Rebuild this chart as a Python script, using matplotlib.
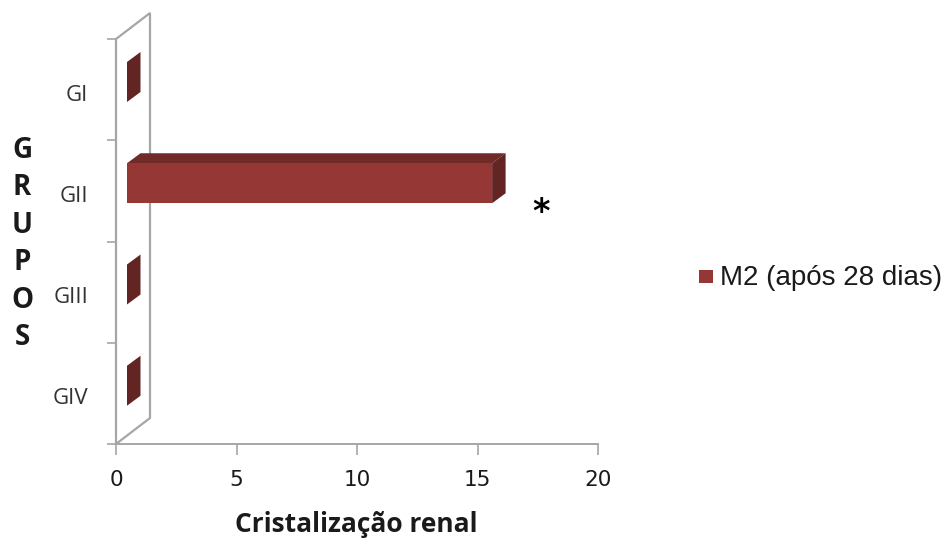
import matplotlib
matplotlib.use('Agg')
import matplotlib.pyplot as plt
from matplotlib.patches import Polygon, Rectangle

groups = ['GI', 'GII', 'GIII', 'GIV']
m2_values = [0, 15.15, 0, 0]
x_ticks = [0, 5, 10, 15, 20]
series_name = 'M2 (após 28 dias)'

FRONT = '#953735'
TOP = '#702B29'
SIDE = '#632523'
AXIS = '#A6A6A6'
TEXT = '#1a1a1a'

# 3D look: depth and inset in data units
DEPTH_X = 13.5 / 24.1
DEPTH_Y = 10 / 101.25
WALL_X = 34 / 24.1
WALL_Y = 26 / 101.25
BAR_START = 11 / 24.1
BAR_TOP = 23 / 101.25
BAR_BOTTOM = 63 / 101.25

W, H = 944, 540
fig = plt.figure(figsize=(W / 100, H / 100), dpi=100)
ax = fig.add_axes([116 / W, 1 - 444 / H, (598 - 116) / W, (444 - 39) / H])
ax.set_xlim(0, 20)
ax.set_ylim(4, 0)

# back wall of the 3D plot
wall = [(0, 4), (WALL_X, 4 - WALL_Y), (WALL_X, -WALL_Y), (0, 0)]
ax.add_patch(Polygon(wall, closed=True, fill=False, edgecolor=AXIS, lw=1.6,
                     clip_on=False, zorder=1))

for i, value in enumerate(m2_values):
    x0 = BAR_START
    x1 = BAR_START + value
    top = i + BAR_TOP
    bottom = i + BAR_BOTTOM
    if value > 0:
        ax.add_patch(Polygon([(x0, top), (x0 + DEPTH_X, top - DEPTH_Y),
                              (x1 + DEPTH_X, top - DEPTH_Y), (x1, top)],
                             closed=True, facecolor=TOP, edgecolor='none', zorder=3))
        ax.add_patch(Rectangle((x0, top), value, bottom - top,
                               facecolor=FRONT, edgecolor='none', zorder=3))
    # end cap, the only visible face when the value is zero
    ax.add_patch(Polygon([(x1, top), (x1 + DEPTH_X, top - DEPTH_Y),
                          (x1 + DEPTH_X, bottom - DEPTH_Y), (x1, bottom)],
                         closed=True, facecolor=SIDE, edgecolor='none', zorder=3))

for side in ['top', 'right']:
    ax.spines[side].set_visible(False)
for side in ['left', 'bottom']:
    ax.spines[side].set_color(AXIS)
    ax.spines[side].set_linewidth(1.4)

ax.set_xticks(x_ticks)
ax.tick_params(axis='x', length=8, width=1.2, color=AXIS, pad=11,
               labelsize=15.5, labelcolor=TEXT)

# band boundaries get the tick marks, group names sit between them
ax.set_yticks([0, 1, 2, 3, 4])
ax.set_yticklabels([])
ax.tick_params(axis='y', which='major', length=6.5, width=1.2, color=AXIS)
ax.set_yticks([i + 0.53 for i in range(len(groups))], minor=True)
ax.set_yticklabels(groups, minor=True, family='Open Sans', fontsize=16, color='#333333')
ax.tick_params(axis='y', which='minor', length=0, pad=20)

fig.text(356 / W, 1 - 524 / H, 'Cristalização renal', family='Open Sans', fontsize=19,
         fontweight='bold', color=TEXT, ha='center', va='center')
fig.text(22 / W, 1 - 244 / H, 'G\nR\nU\nP\nO\nS', family='Open Sans', fontsize=20,
         fontweight='bold', color=TEXT, ha='center', va='center', linespacing=1.38)

fig.text(541 / W, 1 - 213 / H, '*', family='DejaVu Sans', fontsize=24,
         fontweight='bold', color='black', ha='center', va='center')

# legend drawn by hand so it can sit outside the axes
fig.patches.append(Rectangle((699 / W, 1 - 283 / H), 14 / W, 13 / H, facecolor=FRONT,
                             edgecolor='none', transform=fig.transFigure))
fig.text(720 / W, 1 - 278 / H, series_name, family='Liberation Sans', fontsize=20,
         color=TEXT, ha='left', va='center')

fig.savefig('out.png', dpi=100)
